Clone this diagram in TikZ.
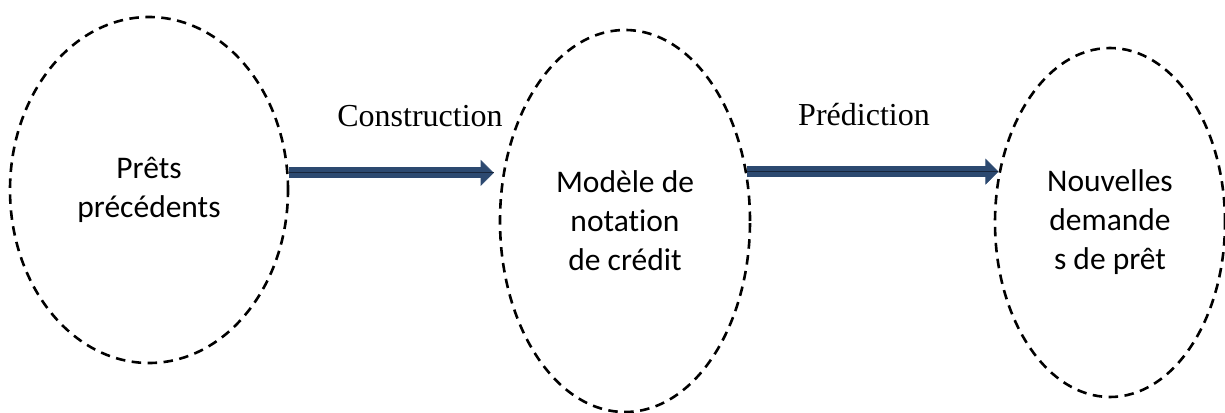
\documentclass[tikz,border=0pt]{standalone}
\usepackage{fontspec}
\setmainfont{Carlito}[Ligatures=NoCommon]
\newfontfamily\lblfont{Liberation Serif}
\usetikzlibrary{shapes.geometric,arrows.meta}
\definecolor{arrfill}{RGB}{44,73,112}
\definecolor{arrline}{RGB}{24,38,60}
\begin{document}
\begin{tikzpicture}[x=1pt,y=-1pt,
  ell/.style={ellipse, draw, line width=2.6pt, dash pattern=on 9.5pt off 6.5pt, inner sep=0pt, align=center, font=\fontsize{31.5}{39}\selectfont},
  lbl/.style={anchor=base, inner sep=0pt, font=\lblfont\fontsize{32}{38}\selectfont},
  flow/.style={line width=11pt, draw=arrfill, -{Triangle[length=13pt 0, width=26pt 0, line width=0.6pt]}, postaction={draw=arrline, line width=1pt, -}}]
\useasboundingbox (0,0) rectangle (1225,412);
\node[ell, minimum width=278pt, minimum height=346pt] (el0) at (149,190) {Prêts\\précédents};
\node[ell, minimum width=250pt, minimum height=382pt] (el1) at (625,221) {Modèle de\\notation\\de crédit};
\node[ell, minimum width=230pt, minimum height=349pt] (el2) at (1110,222.5) {Nouvelles\\demande\\s de prêt};
\draw[flow, shorten >=5pt] (el0.7) -- (el0.7 -| el1.west);
\draw[flow] (el1.22) -- (el1.22 -| el2.156);
\node[lbl] (lb0) at (420,126) {Construction};
\node[lbl] (lb1) at (864,125) {Prédiction};
\end{tikzpicture}
\end{document}
